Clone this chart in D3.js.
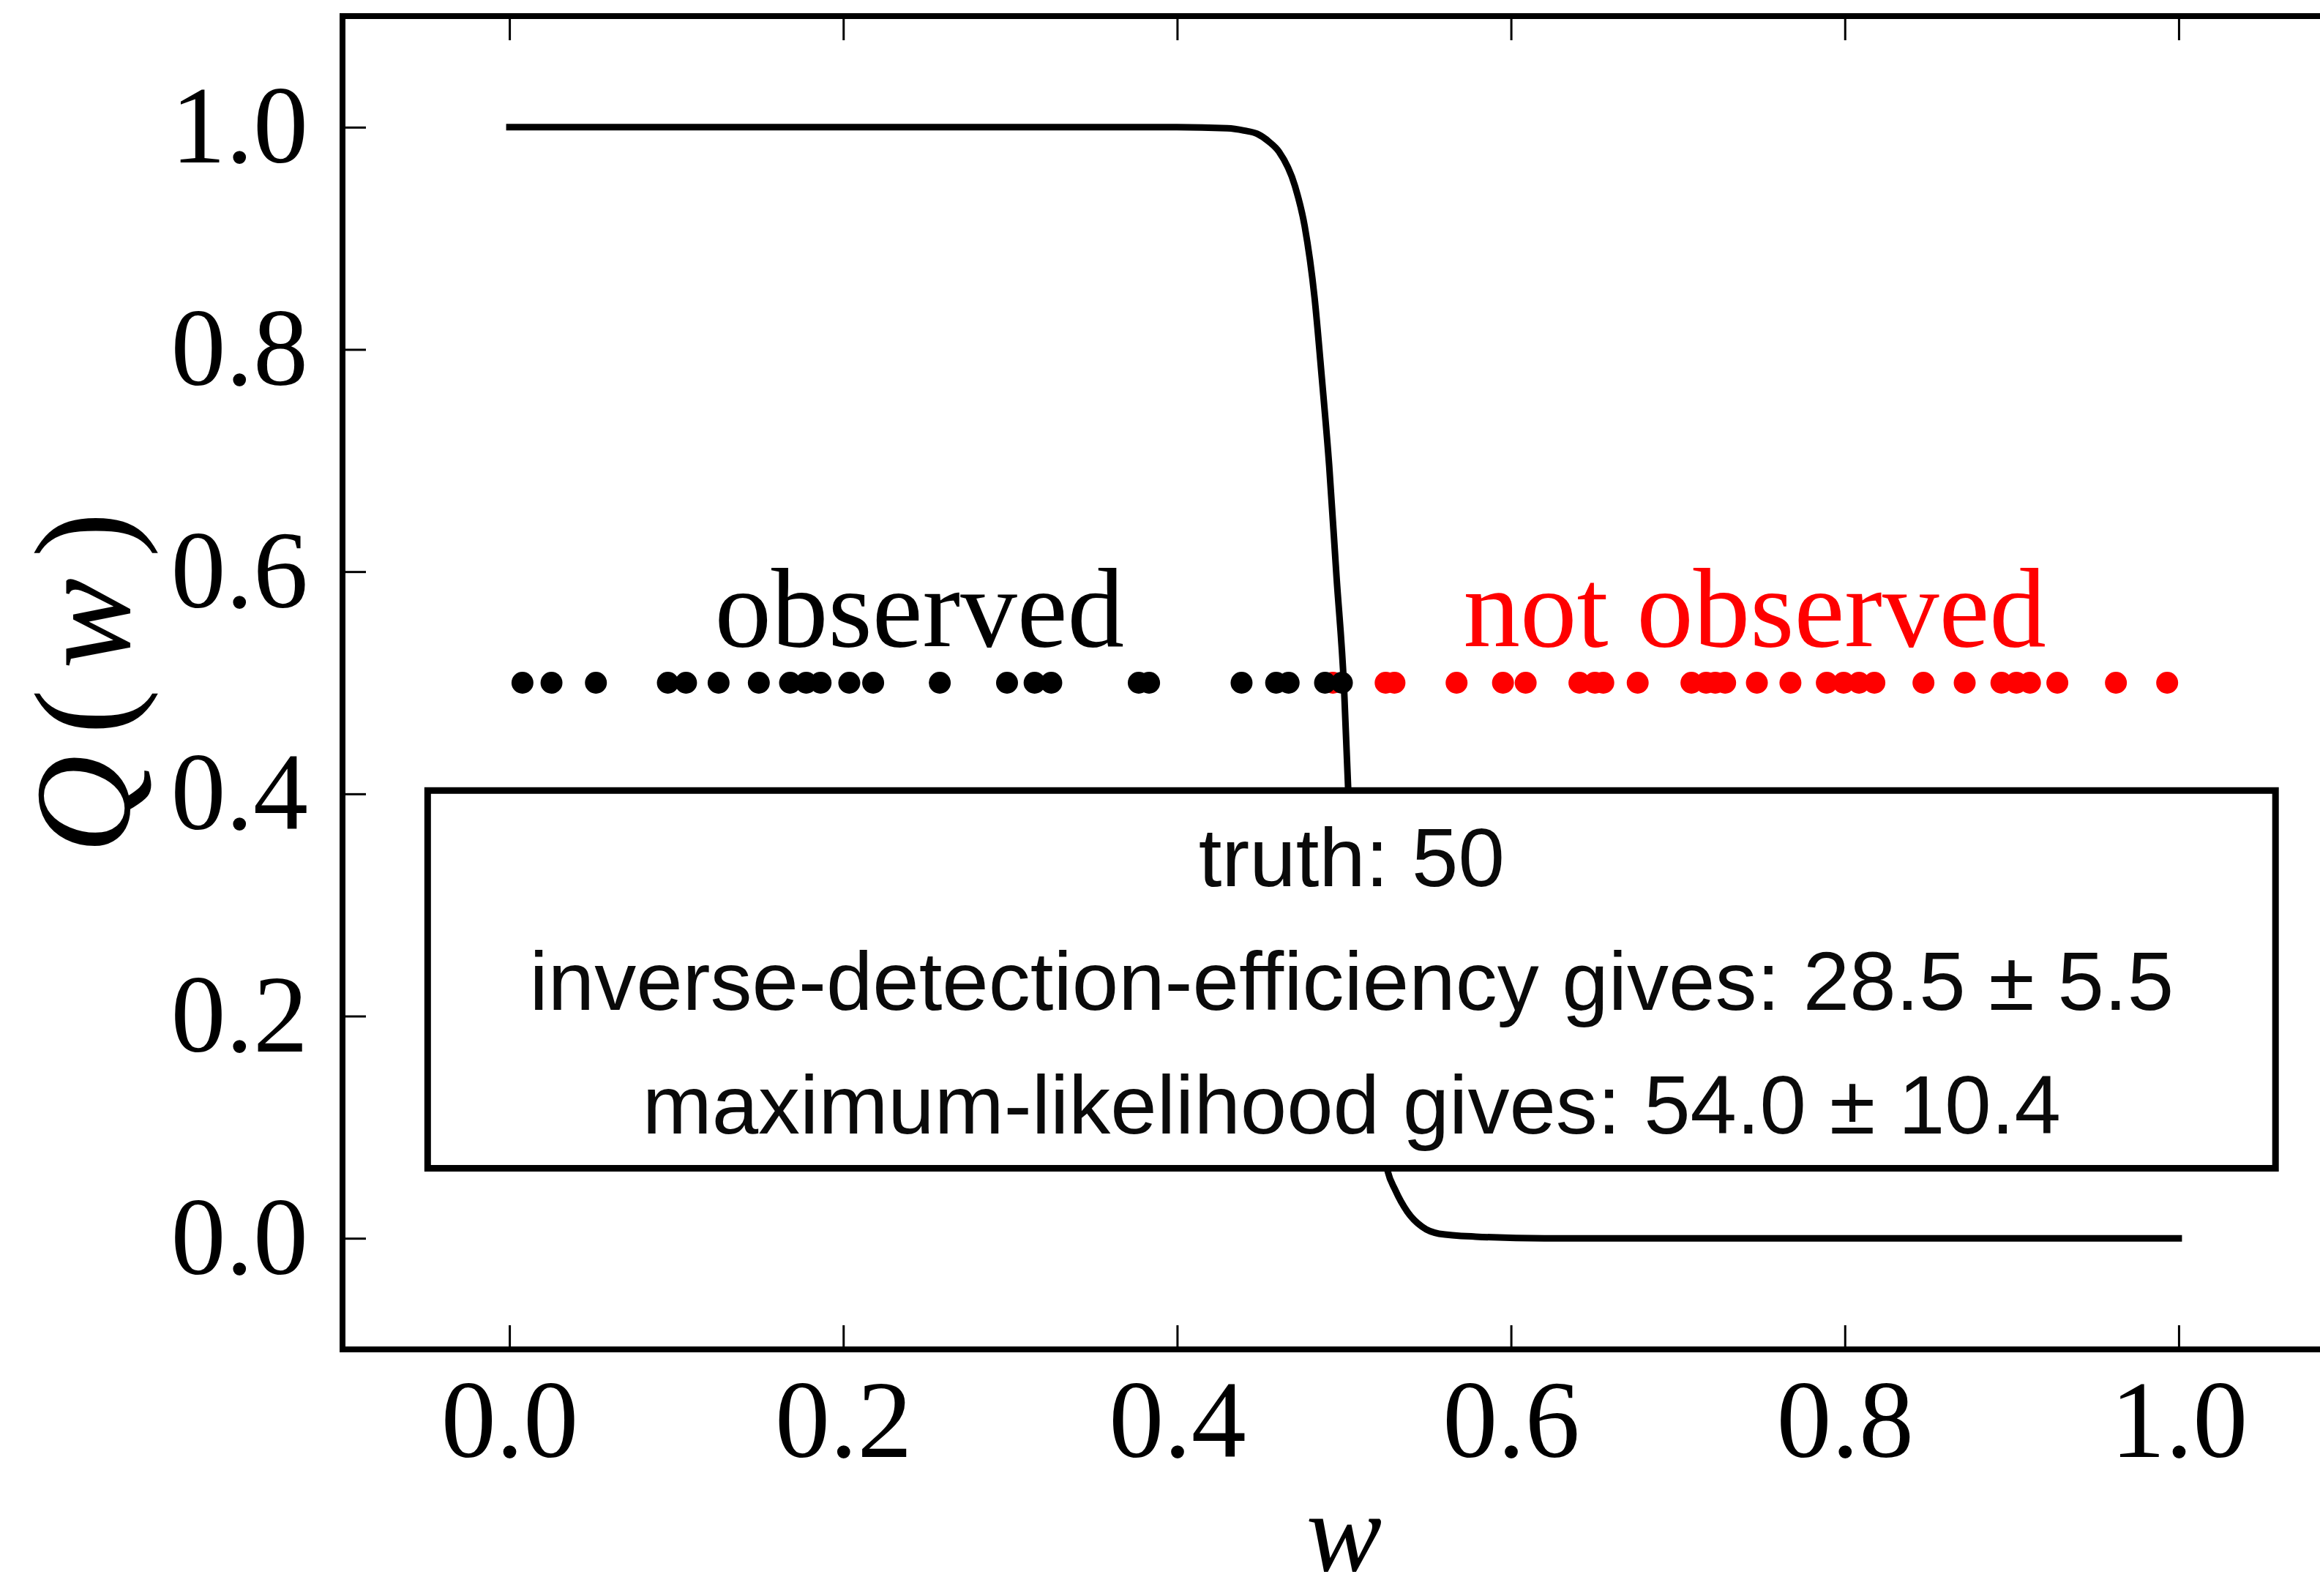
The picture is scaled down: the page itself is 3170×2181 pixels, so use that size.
<!DOCTYPE html>
<html>
<head>
<meta charset="utf-8">
<script src="https://cdn.jsdelivr.net/npm/d3@7"></script>
<style>
  html, body { margin: 0; padding: 0; background: #fff; }
  svg { display: block; }
</style>
</head>
<body>
<svg id="chart"></svg>
<script>
// detection efficiency curve Q(w)
const curveW = [0, 0.40, 0.43, 0.44, 0.448, 0.455, 0.461, 0.4706, 0.4764, 0.4823, 0.4867, 0.4911, 0.4955, 0.5, 0.5025, 0.51, 0.518, 0.5262, 0.5306, 0.5379, 0.5466, 0.5569, 0.5788, 0.62, 1.0]
const curveQ = [1, 1, 0.999, 0.997, 0.994, 0.987, 0.978, 0.947, 0.911, 0.847, 0.774, 0.695, 0.595, 0.495, 0.403, 0.276, 0.151, 0.06, 0.0436, 0.0239, 0.0105, 0.0041, 0.0015, 0, 0]

// sample points, all sitting on Q = 0.5
const observedW = [0.0078, 0.0252, 0.0518, 0.0949, 0.1058, 0.1253, 0.1494, 0.1681, 0.1778, 0.1864, 0.2036, 0.2179, 0.2578, 0.2981, 0.3146, 0.3246, 0.3770, 0.3832, 0.4386, 0.4593, 0.4668, 0.4886, 0.4987]
const notObservedW = [0.4933, 0.5249, 0.5302, 0.5674, 0.5952, 0.6088, 0.6410, 0.6503, 0.6553, 0.6759, 0.7081, 0.7169, 0.7224, 0.7283, 0.7473, 0.7674, 0.7892, 0.7993, 0.8085, 0.8177, 0.8471, 0.8718, 0.8938, 0.9028, 0.9109, 0.9273, 0.9624, 0.9931]
const dotLevel = 0.5

const xTicks = [0, 0.2, 0.4, 0.6, 0.8, 1.0]
const yTicks = [0, 0.2, 0.4, 0.6, 0.8, 1.0]

const groupLabels = ['observed', 'not observed']
const groupLabelW = [0.2456, 0.746]
const groupLabelQ = 0.533

const boxLines = [
  'truth: 50',
  'inverse-detection-efficiency gives: 28.5 \u00b1 5.5',
  'maximum-likelihood gives: 54.0 \u00b1 10.4',
]

const W = 3170
const H = 2181
const serif = '"Liberation Serif", "DejaVu Serif", serif'
const sans = '"Liberation Sans", Arial, sans-serif'

const svg = d3.select('#chart').attr('width', W).attr('height', H)

const x = d3.scaleLinear().domain([-0.1, 1.1]).range([468, 3205])
const y = d3.scaleLinear().domain([-0.1, 1.1]).range([1844, 22])

function styleAxis(g) {
  g.select('.domain').remove()
  g.selectAll('.tick line').attr('stroke', '#000').attr('stroke-width', 3)
  g.selectAll('.tick text')
    .attr('fill', '#000')
    .style('font-family', serif)
    .style('font-size', '150px')
}

const fmt = d3.format('.1f')

svg.append('g')
  .attr('transform', `translate(0,${y(-0.1)})`)
  .call(d3.axisBottom(x).tickValues(xTicks).tickFormat(fmt).tickSizeInner(-33).tickSizeOuter(0).tickPadding(40))
  .call(styleAxis)

svg.append('g')
  .attr('transform', `translate(0,${y(1.1)})`)
  .call(d3.axisTop(x).tickValues(xTicks).tickFormat('').tickSizeInner(-33).tickSizeOuter(0))
  .call(styleAxis)

svg.append('g')
  .attr('transform', `translate(${x(-0.1)},0)`)
  .call(d3.axisLeft(y).tickValues(yTicks).tickFormat(fmt).tickSizeInner(-32).tickSizeOuter(0).tickPadding(47))
  .call(styleAxis)

svg.append('g')
  .attr('transform', `translate(${x(1.1)},0)`)
  .call(d3.axisRight(y).tickValues(yTicks).tickFormat('').tickSizeInner(-32).tickSizeOuter(0))
  .call(styleAxis)

// curve
const line = d3.line()
  .x(d => x(d[0]))
  .y(d => y(d[1]))
  .curve(d3.curveMonotoneX)

svg.append('path')
  .datum(d3.zip(curveW, curveQ))
  .attr('fill', 'none')
  .attr('stroke', '#000')
  .attr('stroke-width', 9)
  .attr('stroke-linecap', 'square')
  .attr('d', line)

// dots
function dots(data, color) {
  svg.append('g')
    .selectAll('circle')
    .data(data)
    .join('circle')
    .attr('cx', d => x(d))
    .attr('cy', y(dotLevel))
    .attr('r', 15)
    .attr('fill', color)
}
dots(notObservedW, '#ff0000')
dots(observedW, '#000')

svg.append('g')
  .selectAll('text')
  .data(groupLabels)
  .join('text')
  .attr('x', (d, i) => x(groupLabelW[i]))
  .attr('y', y(groupLabelQ))
  .attr('text-anchor', 'middle')
  .attr('fill', (d, i) => (i === 0 ? '#000' : '#ff0000'))
  .style('font-family', serif)
  .style('font-size', '155px')
  .text(d => d)

// results box
const box = { x0: -0.049, x1: 1.058, q0: 0.063, q1: 0.403 }
svg.append('rect')
  .attr('x', x(box.x0))
  .attr('y', y(box.q1))
  .attr('width', x(box.x1) - x(box.x0))
  .attr('height', y(box.q0) - y(box.q1))
  .attr('fill', '#fff')
  .attr('stroke', '#000')
  .attr('stroke-width', 9)

const boxMidX = (x(box.x0) + x(box.x1)) / 2
const boxMidY = (y(box.q0) + y(box.q1)) / 2
svg.append('g')
  .selectAll('text')
  .data(boxLines)
  .join('text')
  .attr('x', boxMidX)
  .attr('y', (d, i) => boxMidY + 42 + (i - 1) * 169)
  .attr('text-anchor', 'middle')
  .attr('fill', '#0a0a0a')
  .style('font-family', sans)
  .style('font-size', '114px')
  .text(d => d)

// frame
svg.append('rect')
  .attr('x', x(-0.1))
  .attr('y', y(1.1))
  .attr('width', x(1.1) - x(-0.1))
  .attr('height', y(-0.1) - y(1.1))
  .attr('fill', 'none')
  .attr('stroke', '#000')
  .attr('stroke-width', 8)

// axis titles
svg.append('text')
  .attr('x', x(0.5))
  .attr('y', 2146)
  .attr('text-anchor', 'middle')
  .style('font-family', serif)
  .style('font-size', '155px')
  .style('font-style', 'italic')
  .text('w')

const ylab = svg.append('text')
  .attr('transform', `translate(176,${(y(-0.1) + y(1.1)) / 2 - 14}) rotate(-90)`)
  .attr('text-anchor', 'middle')
  .style('font-family', serif)
  .style('font-size', '186px')
  .style('letter-spacing', '28px')
ylab.append('tspan').style('font-style', 'italic').text('Q')
ylab.append('tspan').text('(')
ylab.append('tspan').style('font-style', 'italic').text('w')
ylab.append('tspan').text(')')
</script>
</body>
</html>
